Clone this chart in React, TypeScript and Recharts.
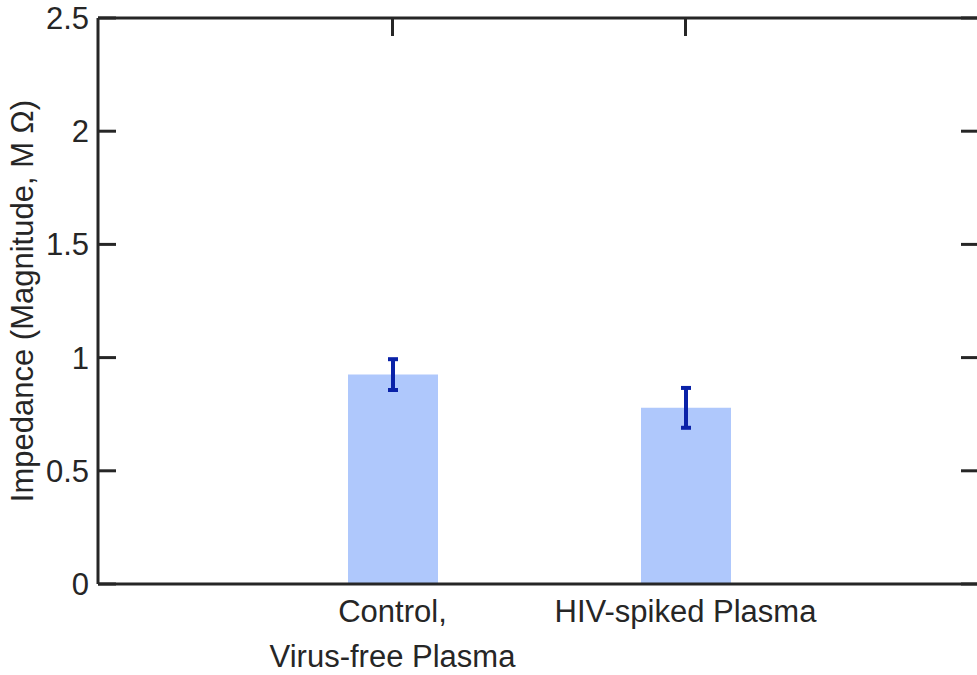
import { ComposedChart, Bar, Line, XAxis, YAxis, ErrorBar } from "recharts"

const groups = ["Control,\nVirus-free Plasma", "HIV-spiked Plasma"]
const impedance = [0.925, 0.778]
const impedanceErr = [0.068, 0.088]
const yTicks = [0, 0.5, 1, 1.5, 2, 2.5]

const data = groups.map((g, i) => ({ group: g, value: impedance[i], err: impedanceErr[i] }))

const font = "'Liberation Sans', Arial, sans-serif"
const ink = "#262626"
const fs = 31

function GroupTick(props: any) {
  const { x, y, payload } = props
  const lines = String(payload.value).split("\n")
  return (
    <text x={x} y={y} textAnchor="middle" fill={ink} fontSize={fs} fontFamily={font}>
      {lines.map((l, i) => (
        <tspan key={i} x={x} dy={i === 0 ? 38 : 45}>
          {l}
        </tspan>
      ))}
    </text>
  )
}

const blank = () => ""

export default function App() {
  return (
    <div
      style={{
        position: "absolute",
        left: 0,
        top: 0,
        width: 977,
        height: 675,
        overflow: "hidden",
        background: "#fff",
      }}
    >
      <ComposedChart
        width={985}
        height={675}
        data={data}
        margin={{ top: 18, right: 6, left: 10, bottom: 11 }}
      >
        <XAxis
          dataKey="group"
          padding={{ left: 148, right: 147 }}
          height={80}
          tickSize={0}
          tickMargin={0}
          tickLine={false}
          axisLine={{ stroke: ink, strokeWidth: 3 }}
          tick={<GroupTick />}
          interval={0}
        />
        <XAxis
          xAxisId="top"
          dataKey="group"
          orientation="top"
          mirror
          padding={{ left: 148, right: 147 }}
          tickSize={18}
          tickFormatter={blank}
          tickLine={{ stroke: ink, strokeWidth: 3 }}
          axisLine={{ stroke: ink, strokeWidth: 3 }}
          interval={0}
        />
        {/* negative tickSize turns the tick marks inward */}
        <YAxis
          type="number"
          domain={[0, 2.5]}
          ticks={yTicks}
          width={88}
          tickSize={-18}
          tickMargin={27}
          tickLine={{ stroke: ink, strokeWidth: 3 }}
          axisLine={{ stroke: ink, strokeWidth: 3 }}
          tick={{ fill: ink, fontSize: fs, fontFamily: font }}
          label={{
            value: "Impedance (Magnitude, M \u03A9)",
            angle: -90,
            position: "insideLeft",
            offset: 12,
            style: { textAnchor: "middle", fill: ink, fontSize: fs, fontFamily: font },
          }}
        />
        <YAxis
          yAxisId="inR"
          type="number"
          domain={[0, 2.5]}
          ticks={yTicks}
          orientation="right"
          mirror
          tickSize={18}
          tickFormatter={blank}
          tickLine={{ stroke: ink, strokeWidth: 3 }}
          axisLine={{ stroke: ink, strokeWidth: 3 }}
        />
        <Bar dataKey="value" fill="#afc8fc" barSize={90} isAnimationActive={false}>
          <ErrorBar dataKey="err" width={5} stroke="#0a22a8" strokeWidth={4} />
        </Bar>
        <Line
          yAxisId="inR"
          dataKey="value"
          stroke="none"
          dot={false}
          activeDot={false}
          legendType="none"
          isAnimationActive={false}
        />
      </ComposedChart>
    </div>
  )
}
